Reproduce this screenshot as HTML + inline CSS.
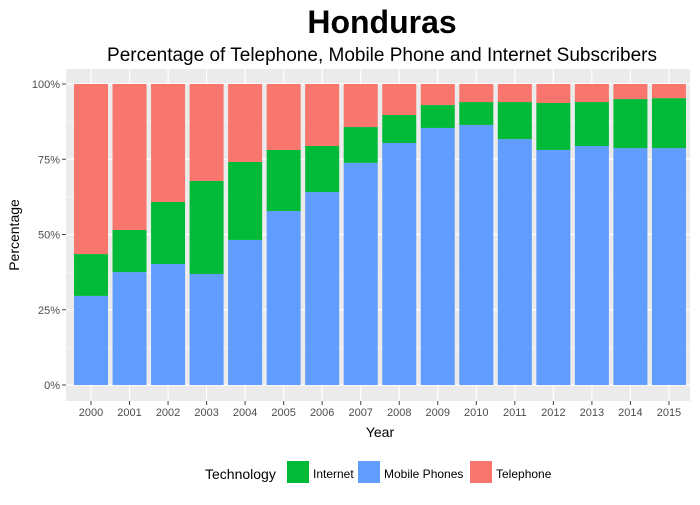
<!DOCTYPE html>
<html><head><meta charset="utf-8"><style>
body{margin:0;background:#fff;font-family:"Liberation Sans",sans-serif}
svg text{font-family:"Liberation Sans",sans-serif}
</style></head><body>
<svg width="700" height="500">
<text x="382" y="33" text-anchor="middle" font-size="32" font-weight="bold">Honduras</text>
<text x="382" y="61" text-anchor="middle" font-size="19">Percentage of Telephone, Mobile Phone and Internet Subscribers</text>
<rect x="66" y="69" width="624" height="332" fill="#EBEBEB"/>
<g id="grid"></g><g id="bars"></g><g id="axes"></g>
<text x="380" y="437" text-anchor="middle" font-size="14">Year</text>
<text transform="translate(19,235) rotate(-90)" text-anchor="middle" font-size="14">Percentage</text>
<g>
<text x="205" y="479" font-size="14">Technology</text>
<rect x="287" y="461" width="22" height="22" fill="#00BA38"/>
<text x="313" y="478" font-size="12">Internet</text>
<rect x="358" y="461" width="22" height="22" fill="#619CFF"/>
<text x="384" y="478" font-size="12">Mobile Phones</text>
<rect x="470" y="461" width="22" height="22" fill="#F8766D"/>
<text x="496" y="478" font-size="12">Telephone</text>
</g>
</svg>
<script>
const years=["2000","2001","2002","2003","2004","2005","2006","2007","2008","2009","2010","2011","2012","2013","2014","2015"];
const mobile=[29.6,37.5,40.2,36.9,48.2,57.8,64.1,73.8,80.4,85.4,86.4,81.7,78.1,79.4,78.7,78.7];
const internet=[13.9,14.0,20.6,30.9,25.9,20.3,15.3,11.9,9.3,7.6,7.6,12.3,15.6,14.6,16.3,16.6];
const telephone=[56.5,48.5,39.2,32.2,25.9,21.9,20.6,14.3,10.3,7.0,6.0,6.0,6.3,6.0,5.0,4.7];
const yTicks=[0,25,50,75,100];
const NS="http://www.w3.org/2000/svg";
const y=v=>385-v*3.01;
const x=i=>91+i*38.53;
function mk(tag,attrs,parent){const e=document.createElementNS(NS,tag);for(const k in attrs)e.setAttribute(k,attrs[k]);parent.appendChild(e);return e;}
const grid=document.getElementById('grid'),bars=document.getElementById('bars'),axes=document.getElementById('axes');
for(let i=0;i<yTicks.length-1;i++){const m=(yTicks[i]+yTicks[i+1])/2;
const l=mk('line',{x1:66,x2:690,y1:y(m),y2:y(m),stroke:'#fff','stroke-width':0.6},grid);

}
yTicks.forEach(t=>{
const l=mk('line',{x1:66,x2:690,y1:y(t),y2:y(t),stroke:'#fff','stroke-width':1.2},grid);


const tk=mk('line',{x1:62,x2:66,y1:y(t),y2:y(t),stroke:'#444'},axes);


const tx=mk('text',{x:60,y:y(t)+4,'text-anchor':'end','font-size':11,fill:'#4D4D4D'},axes);tx.textContent=t+'%';

});
years.forEach((yr,i)=>{
const l=mk('line',{x1:x(i),x2:x(i),y1:69,y2:401,stroke:'#fff','stroke-width':1.2},grid);


const segs=[[mobile[i],'#619CFF','mobile'],[internet[i],'#00BA38','internet'],[telephone[i],'#F8766D','telephone']];
let base=0;
segs.forEach(s=>{const r=mk('rect',{x:x(i)-17,width:34,y:y(base+s[0]),height:s[0]*3.01,fill:s[1]},bars);

base+=s[0];});
const tk=mk('line',{x1:x(i),x2:x(i),y1:401,y2:405,stroke:'#444'},axes);


const tx=mk('text',{x:x(i),y:416,'text-anchor':'middle','font-size':11,fill:'#4D4D4D'},axes);tx.textContent=yr;

});
</script>
</body></html>
